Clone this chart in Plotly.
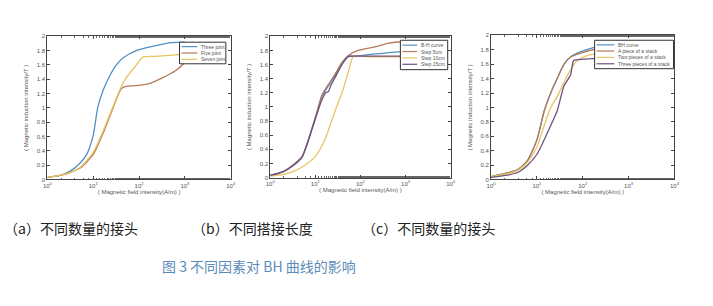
import plotly.graph_objects as go

# ---------------- data ----------------
# Panel (a): different number of joints
a_three_H = [1, 2, 3.2, 5.2, 7.2, 10, 12.5, 16.5, 23, 32, 45, 87, 196, 450, 870, 1000]
a_three_B = [0.03, 0.06, 0.12, 0.23, 0.35, 0.62, 1.0, 1.25, 1.45, 1.6, 1.7, 1.8, 1.86, 1.91, 1.92, 1.92]
a_five_H = [1, 2, 3.2, 5.2, 10, 16.5, 27, 41, 52, 87, 166, 320, 620, 940, 1000]
a_five_B = [0.03, 0.06, 0.1, 0.16, 0.35, 0.65, 1.0, 1.27, 1.3, 1.31, 1.34, 1.42, 1.52, 1.62, 1.65]
a_seven_H = [1, 2, 3.2, 5.2, 10, 16.5, 27, 41, 52, 87, 120, 230, 620, 1000]
a_seven_B = [0.03, 0.06, 0.1, 0.17, 0.38, 0.68, 1.02, 1.3, 1.42, 1.6, 1.71, 1.72, 1.74, 1.76]

# Panel (b): different lap lengths
b_bh_H = [1, 1.9, 3.1, 5.1, 10, 14, 19.6, 27.6, 39, 54, 70, 150, 320, 700, 1000]
b_bh_B = [0.03, 0.08, 0.17, 0.3, 0.85, 1.15, 1.3, 1.45, 1.62, 1.72, 1.72, 1.74, 1.76, 1.78, 1.78]
b_5_H = [1, 1.9, 3.1, 5.1, 10, 14, 19.6, 27.6, 39, 54, 88, 210, 400, 700, 1000]
b_5_B = [0.03, 0.08, 0.17, 0.3, 0.85, 1.17, 1.32, 1.47, 1.63, 1.73, 1.8, 1.85, 1.9, 1.92, 1.92]
b_10_H = [1, 1.9, 3.1, 5.1, 10, 16.6, 27.6, 39, 54, 70, 150, 400, 1000]
b_10_B = [0.02, 0.04, 0.08, 0.15, 0.3, 0.55, 0.95, 1.2, 1.5, 1.72, 1.71, 1.71, 1.71]
b_15_H = [1, 1.9, 3.1, 5.1, 10, 14, 17, 19.6, 22, 27.6, 39, 54, 70, 200, 1000]
b_15_B = [0.03, 0.08, 0.16, 0.29, 0.83, 1.1, 1.2, 1.22, 1.3, 1.42, 1.6, 1.71, 1.72, 1.72, 1.72]

# Panel (c): different number of stacked pieces
c_bh_H = [1, 2.3, 3.9, 6.3, 10, 14.4, 20, 27.6, 39, 54, 88, 170, 328, 600]
c_bh_B = [0.04, 0.09, 0.14, 0.27, 0.55, 0.95, 1.2, 1.4, 1.6, 1.7, 1.77, 1.83, 1.87, 1.9]
c_one_H = [1, 2.3, 3.9, 6.3, 10, 14.4, 20, 27.6, 39, 54, 88, 170, 328, 600]
c_one_B = [0.04, 0.09, 0.14, 0.27, 0.55, 0.95, 1.2, 1.4, 1.6, 1.7, 1.75, 1.8, 1.82, 1.83]
c_two_H = [1, 2.3, 3.9, 6.3, 10, 14.4, 20, 27.6, 39, 54, 75, 125, 230, 600]
c_two_B = [0.04, 0.08, 0.13, 0.24, 0.45, 0.75, 1.0, 1.15, 1.35, 1.52, 1.65, 1.72, 1.75, 1.76]
c_three_H = [1, 2.3, 3.9, 6.3, 10, 14.4, 20, 27.6, 39, 54, 63, 75, 200, 400]
c_three_B = [0.03, 0.06, 0.1, 0.2, 0.35, 0.55, 0.75, 0.95, 1.3, 1.45, 1.65, 1.66, 1.68, 1.69]

x_tickvals = [1, 10, 100, 1000, 10000]
x_ticktext = ["10<sup>0</sup>", "10<sup>1</sup>", "10<sup>2</sup>", "10<sup>3</sup>", "10<sup>4</sup>"]
y_tickvals = [0, 0.2, 0.4, 0.6, 0.8, 1, 1.2, 1.4, 1.6, 1.8, 2]
y_ticktext = ["0", "0.2", "0.4", "0.6", "0.8", "1", "1.2", "1.4", "1.6", "1.8", "2"]

subtitles = ["（a）不同数量的接头", "（b）不同搭接长度", "（c）不同数量的接头"]
caption = "图 3 不同因素对 BH 曲线的影响"
x_title = "( Magnetic field intensity(A/m) )"
y_title = "( Magnetic induction intensity/T )"

# ---------------- styling ----------------
C_BLUE = "#5290c4"
C_ORANGE = "#b57a58"
C_YELLOW = "#e9c462"
C_PURPLE = "#6a5280"

W, H = 713, 306
panels = [
    dict(x=(43, 229), y=(34, 180)),
    dict(x=(269, 452), y=(34, 178)),
    dict(x=(493, 679), y=(33, 180)),
]
# legend boxes (pixels): left, right, top, bottom, line start, line end, entry y's
legend_boxes = [
    dict(l=177, r=224, t=40, b=62, x0=179, x1=195, ys=[44.5, 51, 57.5]),
    dict(l=401, r=449, t=38, b=68, x0=403, x1=418, ys=[43, 49.5, 56, 62.5]),
    dict(l=598, r=678, t=38, b=67, x0=600, x1=618, ys=[42.7, 49, 55.5, 62]),
]

fig = go.Figure()

series = [
    [("Three joint", a_three_H, a_three_B, C_BLUE),
     ("Five joint", a_five_H, a_five_B, C_ORANGE),
     ("Seven joint", a_seven_H, a_seven_B, C_YELLOW)],
    [("B-H curve", b_bh_H, b_bh_B, C_BLUE),
     ("Step 5cm", b_5_H, b_5_B, C_ORANGE),
     ("Step 10cm", b_10_H, b_10_B, C_YELLOW),
     ("Step 15cm", b_15_H, b_15_B, C_PURPLE)],
    [("BH curve", c_bh_H, c_bh_B, C_BLUE),
     ("A piece of a stack", c_one_H, c_one_B, C_ORANGE),
     ("Two pieces of a stack", c_two_H, c_two_B, C_YELLOW),
     ("Three pieces of a stack", c_three_H, c_three_B, C_PURPLE)],
]

axis_font = dict(family="Liberation Sans, Arial", size=6, color="#555555")
leg_font = dict(family="Liberation Sans, Arial", size=5, color="#555555")


def px(x):
    return x / W


def py(y):
    return 1 - y / H


for i, (p, ser) in enumerate(zip(panels, series)):
    xa = "x" if i == 0 else f"x{i+1}"
    ya = "y" if i == 0 else f"y{i+1}"
    for name, hx, by, col in ser:
        fig.add_trace(go.Scatter(x=hx, y=by, mode="lines", name=name, showlegend=False,
                                 line=dict(color=col, width=1.3, shape="spline", smoothing=0.6),
                                 xaxis=xa, yaxis=ya))
    xdom = [px(p["x"][0]), px(p["x"][1])]
    ydom = [py(p["y"][1]), py(p["y"][0])]
    xkey = "xaxis" if i == 0 else f"xaxis{i+1}"
    ykey = "yaxis" if i == 0 else f"yaxis{i+1}"
    fig.layout[xkey] = dict(
        domain=xdom, anchor=ya, type="log", range=[0, 4],
        tickvals=x_tickvals, ticktext=x_ticktext, tickfont=axis_font,
        ticks="inside", ticklen=3, tickcolor="#444", mirror="ticks",
        showline=True, linecolor="#444", linewidth=1, showgrid=False, zeroline=False,
        minor=dict(ticks="inside", ticklen=1.5, tickcolor="#666", showgrid=False),
        title=dict(text=x_title, font=axis_font, standoff=2),
    )
    fig.layout[ykey] = dict(
        domain=ydom, anchor=xa, range=[0, 2],
        tickvals=y_tickvals, ticktext=y_ticktext, tickfont=axis_font,
        ticks="inside", ticklen=3, tickcolor="#444", mirror="ticks",
        showline=True, linecolor="#444", linewidth=1, showgrid=False, zeroline=False,
        title=dict(text=y_title, font=axis_font, standoff=7),
    )

    # legend box drawn in paper coordinates
    lb = legend_boxes[i]
    fig.add_shape(type="rect", xref="paper", yref="paper",
                  x0=px(lb["l"]), x1=px(lb["r"]), y0=py(lb["b"]), y1=py(lb["t"]),
                  fillcolor="white", line=dict(color="#333333", width=1), layer="above")
    for (name, _, _, col), yy in zip(ser, lb["ys"]):
        fig.add_shape(type="line", xref="paper", yref="paper",
                      x0=px(lb["x0"]), x1=px(lb["x1"]), y0=py(yy), y1=py(yy),
                      line=dict(color=col, width=1.2), layer="above")
        fig.add_annotation(x=px(lb["x1"] + 2), y=py(yy), xref="paper", yref="paper",
                           text=name, showarrow=False, xanchor="left", yanchor="middle",
                           font=leg_font)

sub_x = [67, 251, 430]
for sx, t in zip(sub_x, subtitles):
    fig.add_annotation(x=px(sx), y=py(230), xref="paper", yref="paper",
                       text=t, showarrow=False, xanchor="center", yanchor="middle",
                       font=dict(family="Noto Sans CJK SC", size=14, color="#222"))
fig.add_annotation(x=px(258), y=py(268), xref="paper", yref="paper",
                   text=caption, showarrow=False, xanchor="center", yanchor="middle",
                   font=dict(family="Noto Sans CJK SC", size=14, color="#5b8bb8"))

fig.update_layout(width=W, height=H, margin=dict(l=0, r=0, t=0, b=0),
                  paper_bgcolor="white", plot_bgcolor="white", showlegend=False)

fig.write_html("out.html")
